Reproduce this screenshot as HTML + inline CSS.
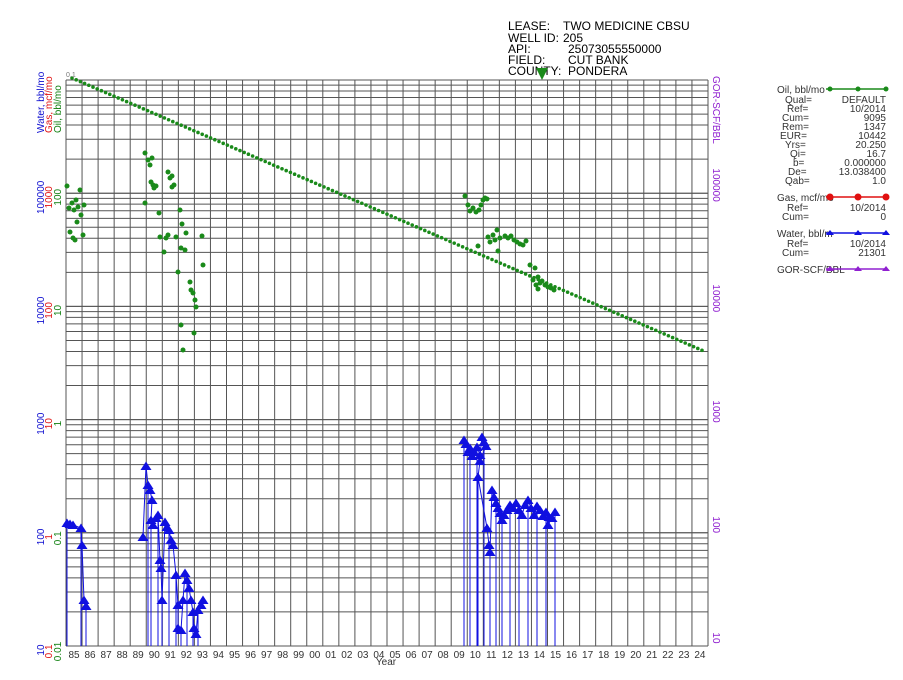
<!DOCTYPE html>
<html><head><meta charset="utf-8"><style>
body{margin:0;background:#fff;font-family:"Liberation Sans",sans-serif;}
svg text{font-family:"Liberation Sans",sans-serif;}
</style></head><body>
<svg id="s" width="903" height="675" xmlns="http://www.w3.org/2000/svg">
<g font-size="12" fill="#000">
<text x="508" y="30">LEASE:</text><text x="563" y="30">TWO MEDICINE CBSU</text>
<text x="508" y="42">WELL ID:</text><text x="563" y="42">205</text>
<text x="508" y="53">API:</text><text x="568" y="53">25073055550000</text>
<text x="508" y="64">FIELD:</text><text x="568" y="64">CUT BANK</text>
<text x="508" y="75">COUNTY:</text><text x="568" y="75">PONDERA</text>
</g>
<polygon points="536,68 548,68 542,80" fill="#1a8a1a"/>
<g id="grid" stroke="#555" stroke-width="1" fill="none"></g>
<g id="data"></g>
<g id="labels"></g>
<g font-size="10" fill="#333">
<text x="777" y="93">Oil, bbl/mo</text>
<text x="785" y="103">Qual=</text><text x="886" y="103" text-anchor="end">DEFAULT</text>
<text x="787" y="112">Ref=</text><text x="886" y="112" text-anchor="end">10/2014</text>
<text x="782" y="121">Cum=</text><text x="886" y="121" text-anchor="end">9095</text>
<text x="782" y="130">Rem=</text><text x="886" y="130" text-anchor="end">1347</text>
<text x="780" y="139">EUR=</text><text x="886" y="139" text-anchor="end">10442</text>
<text x="785" y="148">Yrs=</text><text x="886" y="148" text-anchor="end">20.250</text>
<text x="790" y="157">Qi=</text><text x="886" y="157" text-anchor="end">16.7</text>
<text x="793" y="166">b=</text><text x="886" y="166" text-anchor="end">0.000000</text>
<text x="788" y="175">De=</text><text x="886" y="175" text-anchor="end">13.038400</text>
<text x="785" y="184">Qab=</text><text x="886" y="184" text-anchor="end">1.0</text>
<text x="777" y="201">Gas, mcf/mo</text>
<text x="787" y="211">Ref=</text><text x="886" y="211" text-anchor="end">10/2014</text>
<text x="782" y="220">Cum=</text><text x="886" y="220" text-anchor="end">0</text>
<text x="777" y="237">Water, bbl/m</text>
<text x="787" y="247">Ref=</text><text x="886" y="247" text-anchor="end">10/2014</text>
<text x="782" y="256">Cum=</text><text x="886" y="256" text-anchor="end">21301</text>
<text x="777" y="273">GOR-SCF/BBL</text>
</g>
<g id="leg"></g>
</svg>
<script>
const NS="http://www.w3.org/2000/svg";
function el(p,t,a,txt){const e=document.createElementNS(NS,t);for(const k in a)e.setAttribute(k,a[k]);if(txt!==undefined)e.textContent=txt;p.appendChild(e);return e;}
const g=document.getElementById('grid'),d=document.getElementById('data'),L=document.getElementById('labels'),lg=document.getElementById('leg');
const X0=66,X1=708,Y0=80,Y1=646,DEC=(Y1-Y0)/5;
for(let i=0;i<=40;i++){const x=X0+i*16.05;if(x>X1+1)break;el(g,'line',{x1:x,y1:Y0,x2:x,y2:Y1});}
el(g,'line',{x1:X1,y1:Y0,x2:X1,y2:Y1});
for(let dc=0;dc<5;dc++){const yb=Y1-dc*DEC;for(let k=1;k<=10;k++){const y=yb-DEC*Math.log10(k);el(g,'line',{x1:X0,y1:y,x2:X1,y2:y});}}
const yrs=[];for(let y=85;y<=124;y++)yrs.push(String(y%100).padStart(2,'0'));
yrs.forEach((t,i)=>el(L,'text',{x:X0+8+i*16.05,y:658,'font-size':10,'text-anchor':'middle',fill:'#333'},t));
el(L,'text',{x:386,y:665,'font-size':10,'text-anchor':'middle',fill:'#333'},'Year');
function rl(x,y,t,c){el(L,'text',{x:0,y:0,'font-size':10,fill:c,transform:`translate(${x},${y}) rotate(-90)`},t);}
const wl=['10','100','1000','10000','100000'],gl=['0.1','1','10','100','1000'],ol=['0.01','0.1','1','10','100'];
for(let i=0;i<5;i++){const y=Y1-i*DEC;rl(44,y+4+wl[i].length*2.8,wl[i],'#1010d0');rl(52,y+4+gl[i].length*2.8,gl[i],'#e01010');rl(61,y+4+ol[i].length*2.8,ol[i],'#108010');}
el(L,'text',{x:66,y:77,'font-size':7,fill:'#777'},'0.1');
rl(44,133,'Water, bbl/mo','#1010d0');rl(52,133,'Gas, mcf/mo','#e01010');rl(61,133,'Oil, bbl/mo','#108010');
const rg=['10','100','1000','10000','100000'];
for(let i=0;i<5;i++){const y=Y1-i*DEC;el(L,'text',{x:0,y:0,'font-size':10,fill:'#9020d0',transform:`translate(713,${y-8-rg[i].length*2.8}) rotate(90)`},rg[i]);}
el(L,'text',{x:0,y:0,'font-size':10,fill:'#9020d0',transform:'translate(713,76) rotate(90)'},'GOR-SCF/BBL');
for(let x=72;x<=706;x+=4.2){const y=78+(x-72)*(352-78)/(706-72);el(d,'circle',{cx:x,cy:y,r:1.8,fill:'#1a8a1a'});}
const oil=[[67,186],[69,208],[72,203],[74,210],[76,200],[78,207],[80,190],[81,215],[77,222],[70,232],[73,238],[75,240],[83,235],[84,205],[145,153],[148,160],[150,165],[152,158],[151,182],[154,188],[153,185],[156,186],[145,203],[168,172],[170,178],[172,176],[172,187],[174,185],[159,213],[160,237],[164,252],[166,238],[168,235],[176,237],[180,210],[182,224],[178,272],[181,248],[185,250],[186,233],[191,290],[193,293],[195,300],[196,307],[190,282],[203,265],[202,236],[181,325],[183,350],[194,333],
[465,196],[468,205],[470,211],[473,208],[476,212],[479,210],[481,205],[483,200],[485,198],[487,199],[478,246],[488,237],[490,242],[493,235],[495,240],[497,230],[500,238],[505,236],[508,238],[511,236],[514,240],[517,242],[520,244],[523,245],[526,241],[498,251],[530,265],[535,268],[533,280],[536,285],[538,277],[540,283],[542,281],[545,285],[548,287],[551,288],[554,290],[538,289]];
oil.forEach(p=>el(d,'circle',{cx:p[0],cy:p[1],r:2.5,fill:'#1a8a1a'}));
const w=[[67,523],[70,524],[73,525],[81,528],[82,545],[84,600],[86,606],[143,537],[146,466],[148,485],[150,490],[152,500],[151,520],[153,525],[156,518],[158,515],[160,560],[161,568],[162,600],[165,522],[167,527],[169,530],[171,540],[173,545],[176,575],[178,605],[178,628],[181,630],[183,600],[185,573],[187,580],[189,588],[191,600],[193,612],[194,628],[196,634],[198,610],[201,605],[203,600],
[464,440],[466,444],[468,452],[470,448],[472,456],[474,452],[477,447],[480,455],[482,437],[484,442],[486,446],[480,461],[478,477],[487,528],[489,545],[490,552],[492,490],[494,497],[496,503],[498,508],[500,513],[502,520],[504,515],[507,510],[510,505],[513,508],[516,503],[519,510],[522,515],[525,505],[528,500],[531,508],[534,515],[537,506],[540,510],[543,516],[546,512],[549,517],[552,518],[555,512],[548,525]];
w.forEach((p,i)=>{if(i%3==0)el(d,'line',{x1:p[0],y1:p[1],x2:p[0],y2:Y1,stroke:'#1010e0','stroke-width':1});});
for(let i=1;i<w.length;i++){if(Math.abs(w[i][0]-w[i-1][0])<10)el(d,'line',{x1:w[i-1][0],y1:w[i-1][1],x2:w[i][0],y2:w[i][1],stroke:'#1010e0','stroke-width':1});}
w.forEach(p=>el(d,'polygon',{points:`${p[0]-5.5},${p[1]+4} ${p[0]+5.5},${p[1]+4} ${p[0]},${p[1]-4.5}`,fill:'#1010e0'}));
function lm(y,c,tri){el(lg,'line',{x1:826,y1:y,x2:886,y2:y,stroke:c,'stroke-width':1.5});[830,858,886].forEach(x=>{if(tri)el(lg,'polygon',{points:`${x-4},${y+2} ${x+4},${y+2} ${x},${y-3}`,fill:c});else el(lg,'circle',{cx:x,cy:y,r:tri===0?3.5:2.5,fill:c});});}
lm(89,'#1a8a1a');lm(197,'#e01010',0);lm(233,'#1010e0',true);lm(269,'#9020d0',true);
</script>
</body></html>
